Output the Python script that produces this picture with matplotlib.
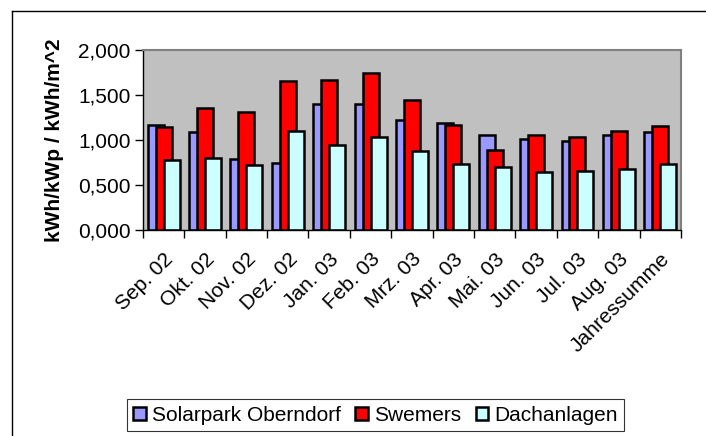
import numpy as np
import matplotlib
matplotlib.use("Agg")
import matplotlib.pyplot as plt
from matplotlib.lines import Line2D

plt.rcParams['font.family'] = ['Liberation Sans', 'DejaVu Sans']

months = ['Sep. 02', 'Okt. 02', 'Nov. 02', 'Dez. 02', 'Jan. 03', 'Feb. 03',
          'Mrz. 03', 'Apr. 03', 'Mai. 03', 'Jun. 03', 'Jul. 03', 'Aug. 03',
          'Jahressumme']
solarpark = [1.167, 1.085, 0.790, 0.740, 1.400, 1.400, 1.222, 1.185, 1.052,
             1.011, 0.993, 1.052, 1.089]
swemers = [1.140, 1.360, 1.307, 1.655, 1.663, 1.740, 1.444, 1.163, 0.885,
           1.056, 1.033, 1.096, 1.156]
dachanlagen = [0.778, 0.800, 0.726, 1.100, 0.944, 1.030, 0.874, 0.737, 0.700,
               0.640, 0.652, 0.674, 0.737]

series = [('Solarpark Oberndorf', solarpark, '#9999FF'),
          ('Swemers', swemers, '#FF0000'),
          ('Dachanlagen', dachanlagen, '#CCFFFF')]

fig = plt.figure(figsize=(7.06, 4.36), dpi=100)
ax = fig.add_axes([0.2025, 0.4725, 0.762, 0.4128])
ax.set_facecolor('#C0C0C0')

x = np.arange(len(months))
w = 0.386
offs = [-0.193, 0.0, 0.193]
for (name, vals, col), o in zip(series, offs):
    ax.bar(x + o, vals, width=w, color=col, edgecolor='black',
           linewidth=1.8, label=name, zorder=2)

ax.set_xlim(-0.5, len(months) - 0.5)
ax.set_ylim(0, 2.0)
yt = np.arange(0, 2.01, 0.5)
ax.set_yticks(yt)
ax.set_yticklabels([f'{v:.3f}'.replace('.', ',') for v in yt], fontsize=15)
ax.tick_params(axis='y', length=6, width=1, pad=3)

# boundary ticks without labels, labels at the category centres
ax.set_xticks(np.arange(-0.5, len(months), 1.0))
ax.set_xticklabels([])
ax.tick_params(axis='x', which='major', length=6, width=1)
ax.set_xticks(x, minor=True)
ax.set_xticklabels(months, minor=True, rotation=45, ha='right',
                   rotation_mode='anchor', fontsize=15)
ax.tick_params(axis='x', which='minor', length=0, pad=14)

for s in ['top', 'right']:
    ax.spines[s].set_color('#808080')
    ax.spines[s].set_linewidth(1.5)
for s in ['left', 'bottom']:
    ax.spines[s].set_color('black')
    ax.spines[s].set_linewidth(1)

ax.set_ylabel('kWh/kWp / kWh/m^2', fontsize=15, fontweight='bold', labelpad=10)

leg = ax.legend(loc='center', bbox_to_anchor=(0.532, 0.048),
                bbox_transform=fig.transFigure, ncol=3, fontsize=15,
                frameon=True, fancybox=False, edgecolor='black',
                handlelength=0.6, handleheight=0.6, handletextpad=0.3,
                columnspacing=0.7, borderpad=0.3, borderaxespad=0)
leg.get_frame().set_linewidth(0.8)

# outer chart frame
fig.add_artist(Line2D([12 / 706, 12 / 706], [0, 1 - 11 / 436],
                      transform=fig.transFigure, color='black', linewidth=1))
fig.add_artist(Line2D([12 / 706, 1], [1 - 11 / 436, 1 - 11 / 436],
                      transform=fig.transFigure, color='black', linewidth=1))

fig.savefig('out.png', dpi=100)
